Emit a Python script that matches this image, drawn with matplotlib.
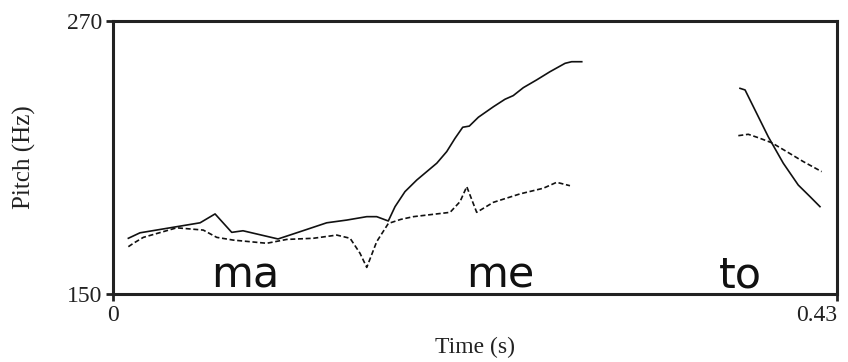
import matplotlib.pyplot as plt

# pitch contours (time in s, pitch in Hz)
solid_t1 = [0.0091, 0.0160, 0.0517, 0.0606, 0.0705, 0.0772, 0.0980, 0.1111, 0.1269,
            0.1388, 0.1507, 0.1566, 0.1635, 0.1675, 0.1734, 0.1804, 0.1923, 0.1982,
            0.2031, 0.2077, 0.2116, 0.2170, 0.2259, 0.2328, 0.2377, 0.2437, 0.2516,
            0.2595, 0.2685, 0.2724, 0.2784]
solid_f1 = [174.5, 176.9, 181.3, 185.2, 177.1, 177.8, 174.2, 177.4, 181.3,
            182.5, 184.0, 184.0, 182.1, 188.4, 195.0, 200.1, 207.5, 212.6,
            218.4, 223.3, 223.8, 227.7, 232.3, 235.6, 237.2, 240.7, 244.1,
            247.7, 251.4, 252.1, 252.1]
solid_t2 = [0.3724, 0.3754, 0.3823, 0.3892, 0.3981, 0.4070, 0.4140, 0.4199]
solid_f2 = [240.4, 239.7, 229.4, 219.1, 207.5, 197.9, 192.8, 188.4]

dash_t1 = [0.0091, 0.0121, 0.0180, 0.0378, 0.0536, 0.0616, 0.0714, 0.0913, 0.1032,
           0.1190, 0.1329, 0.1408, 0.1467, 0.1507, 0.1566, 0.1635, 0.1709, 0.1784,
           0.2002, 0.2061, 0.2101, 0.2160, 0.2259, 0.2417, 0.2556, 0.2635, 0.2714]
dash_f1 = [170.8, 172.3, 174.9, 179.1, 178.1, 174.9, 173.7, 172.3, 174.0,
           174.5, 175.9, 174.5, 167.9, 161.7, 173.0, 181.0, 182.8, 184.0,
           185.9, 190.6, 197.2, 185.9, 190.3, 194.0, 196.5, 199.1, 197.6]
dash_t2 = [0.3714, 0.3773, 0.3833, 0.3912, 0.4001, 0.4100, 0.4209]
dash_f2 = [219.6, 220.2, 218.7, 216.5, 212.6, 208.2, 203.8]

syllables = ['ma', 'me', 'to']
syll_t = [0.0784, 0.2299, 0.3724]

serif = 'Liberation Serif'
dark = '#222222'

fig = plt.figure(figsize=(8.48, 3.62), dpi=100)
ax = fig.add_axes([0.1333, 0.1878, 0.8537, 0.7542])

ax.plot(solid_t1, solid_f1, color='#111111', lw=1.2)
ax.plot(solid_t2, solid_f2, color='#111111', lw=1.2)
ax.plot(dash_t1, dash_f1, color='#111111', lw=1.2, dashes=(3, 1.6))
ax.plot(dash_t2, dash_f2, color='#111111', lw=1.2, dashes=(3, 1.6))

for s, t in zip(syllables, syll_t):
    ax.text(t, 153.0, s, ha='center', va='baseline', fontsize=31,
            family='DejaVu Sans', color='#111111')

ax.set_xlim(0, 0.43)
ax.set_ylim(150, 270)
ax.set_xticks([0, 0.43])
ax.set_xticklabels(['0', '0.43'], family=serif, fontsize=17, color=dark)
ax.set_yticks([150, 270])
ax.set_yticklabels(['150', '270'], family=serif, fontsize=17, color=dark)
ax.get_xticklabels()[-1].set_ha('right')
ax.tick_params(direction='out', length=5, width=2, color=dark, pad=3)

for sp in ax.spines.values():
    sp.set_linewidth(2.2)
    sp.set_color(dark)

ax.set_xlabel('Time (s)', family=serif, fontsize=17, color=dark, labelpad=8)
ax.set_ylabel('Pitch (Hz)', family=serif, fontsize=18, color=dark, labelpad=22)

fig.savefig('out.png', dpi=100)
